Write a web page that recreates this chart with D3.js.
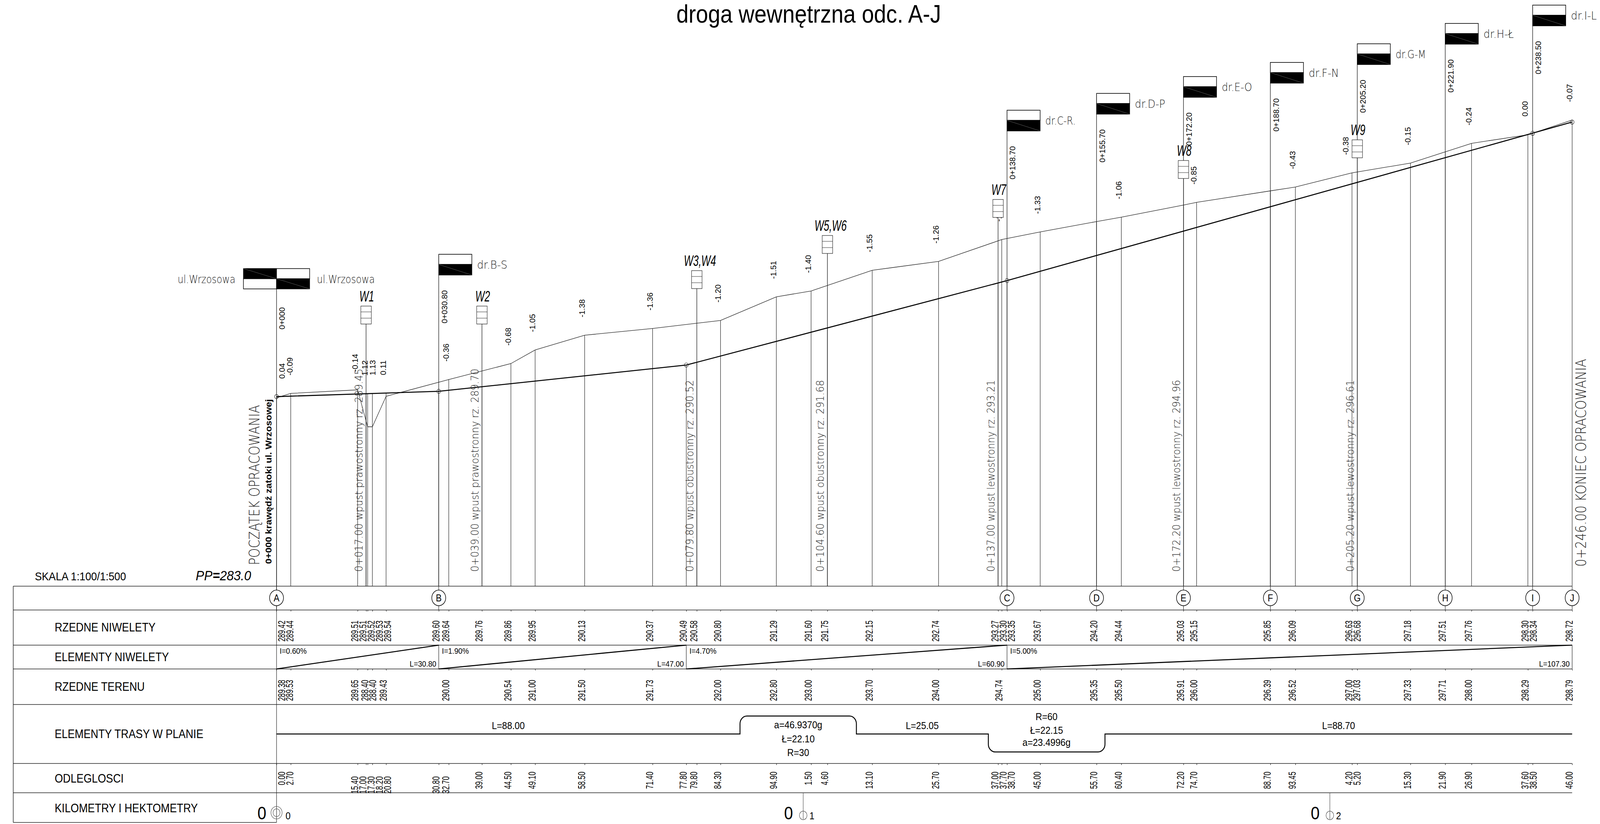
<!DOCTYPE html>
<html>
<head>
  <meta charset="utf-8" />
  <script src="https://d3js.org/d3.v7.min.js"></script>
  <style>
    html, body { margin: 0; background: #fff; overflow: hidden; }
    svg { display: block; width: 100vw; height: 100vh; }
    text { font-family: "Liberation Sans", Arial, sans-serif; fill: #000; }
    .thin { font-family: "DejaVu Sans", sans-serif; font-weight: 200; fill: #222; }
    .tick text { display: none; }
    .tick line { stroke: #222; stroke-width: 1.3px; }
  </style>
</head>
<body>
  <script>
    // stations (m) and the table rows
    var stations = [0, 2.7, 15.4, 17, 17.3, 18.2, 20.8, 30.8, 32.7, 39, 44.5, 49.1, 58.5, 71.4, 77.8, 79.8, 84.3, 94.9, 101.5, 104.6, 113.1, 125.7, 137, 137.7, 138.7, 145, 155.7, 160.4, 172.2, 174.7, 188.7, 193.45, 204.2, 205.2, 215.3, 221.9, 226.9, 237.6, 238.5, 246];
    var niweleta = [289.42, 289.44, 289.51, 289.51, 289.52, 289.53, 289.54, 289.60, 289.64, 289.76, 289.86, 289.95, 290.13, 290.37, 290.49, 290.58, 290.80, 291.29, 291.60, 291.75, 292.15, 292.74, 293.27, 293.30, 293.35, 293.67, 294.20, 294.44, 295.03, 295.15, 295.85, 296.09, 296.63, 296.68, 297.18, 297.51, 297.76, 298.30, 298.34, 298.72];
    var distLabels = ["0.00", "2.70", "15.40", "17.00", "17.30", "18.20", "20.80", "30.80", "32.70", "39.00", "44.50", "49.10", "58.50", "71.40", "77.80", "79.80", "84.30", "94.90", "1.50", "4.60", "13.10", "25.70", "37.00", "37.70", "38.70", "45.00", "55.70", "60.40", "72.20", "74.70", "88.70", "93.45", "4.20", "5.20", "15.30", "21.90", "26.90", "37.60", "38.50", "46.00"];

    var terenStations = [0, 2.7, 15.4, 17.3, 18.2, 20.8, 32.7, 44.5, 49.1, 58.5, 71.4, 84.3, 94.9, 101.5, 113.1, 125.7, 137.7, 145, 155.7, 160.4, 172.2, 174.7, 188.7, 193.45, 204.2, 205.2, 215.3, 221.9, 226.9, 237.6, 246];
    var teren = [289.38, 289.53, 289.65, 288.40, 288.40, 289.43, 290.00, 290.54, 291.00, 291.50, 291.73, 292.00, 292.80, 293.00, 293.70, 294.00, 294.74, 295.00, 295.35, 295.50, 295.91, 296.00, 296.39, 296.52, 297.00, 297.03, 297.33, 297.71, 298.00, 298.29, 298.79];

    var diffStations = [0, 2.7, 15.4, 17.3, 18.2, 20.8, 32.7, 44.5, 49.1, 58.5, 71.4, 84.3, 94.9, 101.5, 113.1, 125.7, 137.7, 145, 160.4, 174.7, 193.45, 204.2, 215.3, 226.9, 237.6, 246];
    var diffs = ["0.04", "-0.09", "-0.14", "1.12", "1.13", "0.11", "-0.36", "-0.68", "-1.05", "-1.38", "-1.36", "-1.20", "-1.51", "-1.40", "-1.55", "-1.26", "-1.44", "-1.33", "-1.06", "-0.85", "-0.43", "-0.38", "-0.15", "-0.24", "0.00", "-0.07"];

    // grade line
    var gradeStations = [0, 30.8, 77.8, 138.7, 246];
    var gradeElev = [289.42, 289.60, 290.49, 293.35, 298.72];
    var gradeI = ["I=0.60%", "I=1.90%", "I=4.70%", "I=5.00%"];
    var gradeL = ["L=30.80", "L=47.00", "L=60.90", "L=107.30"];
    var circleStations = [0, 30.8, 77.8, 138.7, 238.5, 246];

    // road crossings: flag station, height of the flag foot (m)
    var flagStations = [0, 30.8, 138.7, 155.7, 172.2, 188.7, 205.2, 221.9, 238.5];
    var flagElev = [293.07, 293.54, 298.42, 298.99, 299.56, 300.04, 300.67, 301.36, 301.98];
    var flagNames = ["ul.Wrzosowa", "dr.B-S", "dr.C-R.", "dr.D-P", "dr.E-O", "dr.F-N", "dr.G-M", "dr.H-Ł", "dr.I-L"];
    var chainage = ["0+000", "0+030.80", "0+138.70", "0+155.70", "0+172.20", "0+188.70", "0+205.20", "0+221.90", "0+238.50"];

    var letterStations = [0, 30.8, 138.7, 155.7, 172.2, 188.7, 205.2, 221.9, 238.5, 246];
    var letters = ["A", "B", "C", "D", "E", "F", "G", "H", "I", "J"];

    // inlets
    var inletStations = [17, 39, 79.8, 104.6, 137, 172.2, 205.2];
    var inletElev = [291.88, 291.88, 293.08, 294.27, 295.49, 296.81, 297.51];
    var inletNames = ["W1", "W2", "W3,W4", "W5,W6", "W7", "W8", "W9"];
    var inletNotes = [
      "0+017.00  wpust  prawostronny  rz.  289.45",
      "0+039.00  wpust  prawostronny  rz.  289.70",
      "0+079.80  wpust  obustronny  rz.  290.52",
      "0+104.60  wpust  obustronny  rz.  291.68",
      "0+137.00  wpust  lewostronny  rz.  293.21",
      "0+172.20  wpust  lewostronny  rz.  294.96",
      "0+205.20  wpust  lewostronny  rz.  296.61"
    ];

    // plan elements: length, side of the line
    var planLengths = [88, 22.1, 25.05, 22.15, 88.7];
    var planSides = [0, 1, 0, -1, 0];
    var hektoStations = [0, 100, 200];

    var rowLabels = ["RZEDNE NIWELETY", "ELEMENTY NIWELETY", "RZEDNE TERENU", "ELEMENTY TRASY W PLANIE", "ODLEGLOSCI", "KILOMETRY I HEKTOMETRY"];

    var W = 4594, H = 2110;
    var left = 38, tableTop = 1501;
    var rows = [1562, 1652, 1713, 1804, 1955, 2030, 2106];
    var rowBase = [1617, 1693, 1769, 1890, 2004, 2080];

    var x = d3.scaleLinear().domain([0, 246]).range([794, 4514]);
    var y = d3.scaleLinear().domain([283, 298.72]).range([tableTop, 312.6]);

    // drawing units stay 4594x2110 whatever the window really is
    var svg = d3.select("body").append("svg")
      .attr("viewBox", `0 0 ${W} ${H}`)
      .attr("preserveAspectRatio", "none");
    var ink = "#222";

    function vline(g, px, y1, y2, w, col) {
      g.append("line").attr("x1", px).attr("x2", px).attr("y1", y1).attr("y2", y2)
        .attr("stroke", col || ink).attr("stroke-width", w || 1.3);
    }
    function hline(g, x1, x2, py, w) {
      g.append("line").attr("x1", x1).attr("x2", x2).attr("y1", py).attr("y2", py)
        .attr("stroke", ink).attr("stroke-width", w || 1.6);
    }
    // rotated label; baseX = its baseline, py = its lower or upper end
    function vtext(g, txt, baseX, py, size, sx, anchor) {
      return g.append("text")
        .attr("transform", `translate(${baseX} ${py}) rotate(-90) scale(${sx} 1)`)
        .attr("font-size", size)
        .attr("text-anchor", anchor || "start")
        .text(txt);
    }
    // labels slide right when they would run into the previous one
    function sweep(px, offset, gap, first) {
      var out = [];
      px.forEach(function(p, i) {
        var c = p + offset;
        if (i == 0) c = first;
        else c = Math.max(c, out[i - 1] + gap);
        out.push(c);
      });
      return out;
    }

    function terrainAt(s) {
      var i = terenStations.indexOf(s);
      return i < 0 ? null : teren[i];
    }
    function topElev(s, i) {
      var t = terrainAt(s);
      return t === null ? niweleta[i] : Math.max(t, niweleta[i]);
    }

    // title
    svg.append("text").attr("x", 2322).attr("y", 58).attr("text-anchor", "middle")
      .attr("font-size", 64).attr("textLength", 760).attr("lengthAdjust", "spacingAndGlyphs")
      .text("droga wewnętrzna odc. A-J");

    // station lines
    var gLines = svg.append("g");
    stations.forEach(function(s, i) {
      vline(gLines, x(s), y(topElev(s, i)), tableTop);
    });

    // poles
    inletStations.forEach(function(s, i) {
      vline(gLines, x(s), y(inletElev[i]), tableTop, 1.5);
    });
    flagStations.forEach(function(s, i) {
      vline(gLines, x(s), y(flagElev[i]), tableTop, 1.5);
    });

    // terrain and grade
    var line = d3.line().x(function(d) { return x(d[0]); }).y(function(d) { return y(d[1]); });
    svg.append("path").attr("d", line(d3.zip(terenStations, teren)))
      .attr("fill", "none").attr("stroke", ink).attr("stroke-width", 1.3);
    svg.append("path").attr("d", line(d3.zip(gradeStations, gradeElev)))
      .attr("fill", "none").attr("stroke", "#000").attr("stroke-width", 2.6);
    circleStations.forEach(function(s) {
      svg.append("circle").attr("cx", x(s)).attr("cy", y(niweleta[stations.indexOf(s)])).attr("r", 5.5)
        .attr("fill", "none").attr("stroke", ink).attr("stroke-width", 1.2);
    });

    // differences above the profile
    var gDiff = svg.append("g");
    var diffX = sweep(diffStations.map(x), -8, 22, x(0) + 16);
    diffs.forEach(function(d, i) {
      var s = diffStations[i];
      var top = Math.max(teren[terenStations.indexOf(s)], niweleta[stations.indexOf(s)]);
      // -0.38 is pushed clear of the W9 box
      vtext(gDiff, d, diffX[i] + 8 - (s == 204.2 ? 10 : 0), y(top) - 46, 23, 0.88);
    });

    // flags
    var gFlag = svg.append("g");
    function flagPanel(px, py, w, h, black) {
      gFlag.append("rect").attr("x", px).attr("y", py).attr("width", w).attr("height", h)
        .attr("fill", black ? "#000" : "#fff").attr("stroke", "#000").attr("stroke-width", 1.6);
      if (black) {
        gFlag.append("line").attr("x1", px).attr("y1", py).attr("x2", px + w).attr("y2", py + h)
          .attr("stroke", "#777").attr("stroke-width", 0.8);
      }
    }
    function thinLabel(px, py, txt, len, size) {
      svg.append("text").attr("class", "thin").attr("x", px).attr("y", py)
        .attr("font-size", size).attr("textLength", len).attr("lengthAdjust", "spacingAndGlyphs").text(txt);
    }
    flagStations.forEach(function(s, i) {
      var fx = x(s), fy = y(flagElev[i]);
      if (i == 0) {
        flagPanel(fx - 95, fy - 52, 95, 26, true);
        flagPanel(fx - 95, fy - 26, 95, 26, false);
        flagPanel(fx, fy - 52, 95, 26, false);
        flagPanel(fx, fy - 26, 95, 26, true);
        thinLabel(fx - 284, fy - 15, flagNames[i], 166, 28);
        thinLabel(fx + 116, fy - 15, flagNames[i], 166, 28);
      } else {
        flagPanel(fx, fy - 53, 95, 26, false);
        flagPanel(fx, fy - 27, 95, 27, true);
        thinLabel(fx + 110, fy - 16, flagNames[i], i == 8 ? 74 : 87, 28);
      }
      vtext(svg, chainage[i], fx + 24, fy + (i == 0 ? 47 : 39), 23, 0.88, "end");
    });

    // inlets
    var gInlet = svg.append("g");
    inletStations.forEach(function(s, i) {
      var bx = x(s), by = y(inletElev[i]);
      gInlet.append("rect").attr("x", bx - 15).attr("y", by - 46).attr("width", 30).attr("height", 46)
        .attr("fill", "#fff").attr("stroke", ink).attr("stroke-width", 1.2);
      [-31, -15].forEach(function(d) {
        gInlet.append("line").attr("x1", bx - 15).attr("x2", bx + 15).attr("y1", by + d).attr("y2", by + d)
          .attr("stroke", ink).attr("stroke-width", 1);
      });
      gInlet.append("text")
        .attr("transform", `translate(${bx + (inletNames[i].length > 2 ? 9 : 2)} ${by - 58}) scale(0.74 1)`)
        .attr("text-anchor", "middle").attr("font-size", 38).attr("font-style", "italic")
        .text(inletNames[i]);
      svg.append("text").attr("class", "thin")
        .attr("transform", `translate(${bx - 10} 1464) rotate(-90)`)
        .attr("font-size", 30)
        .attr("textLength", i < 2 ? 520 : 491).attr("lengthAdjust", "spacingAndGlyphs")
        .text(inletNotes[i]);
    });

    // end notes
    svg.append("text").attr("class", "thin")
      .attr("transform", "translate(745 1447) rotate(-90)")
      .attr("font-size", 42).attr("textLength", 410).attr("lengthAdjust", "spacingAndGlyphs")
      .text("POCZĄTEK  OPRACOWANIA");
    svg.append("text")
      .attr("transform", "translate(780 1444) rotate(-90)")
      .attr("font-size", 25).attr("font-weight", "bold").attr("textLength", 422).attr("lengthAdjust", "spacingAndGlyphs")
      .text("0+000 krawędź zatoki ul. Wrzosowej");
    svg.append("text").attr("class", "thin")
      .attr("transform", "translate(4554 1451) rotate(-90)")
      .attr("font-size", 42).attr("textLength", 532).attr("lengthAdjust", "spacingAndGlyphs")
      .text("0+246.00 KONIEC  OPRACOWANIA");

    // scale notes
    svg.append("text").attr("x", 100).attr("y", 1486).attr("font-size", 30).text("SKALA 1:100/1:500");
    var pp = svg.append("text").attr("x", 562).attr("y", 1486).attr("font-size", 36).attr("font-style", "italic");
    pp.append("tspan").text("PP");
    pp.append("tspan").attr("font-weight", "bold").text("=");
    pp.append("tspan").text("283.0");

    // table frame
    var gTable = svg.append("g");
    hline(gTable, left, x(246), tableTop);
    rows.slice(0, 6).forEach(function(r) { hline(gTable, left, x(246), r); });
    hline(gTable, left, x(0), rows[6]);
    vline(gTable, left, tableTop, rows[6], 1.6);
    vline(gTable, x(0), tableTop, rows[6], 1.3);

    rowLabels.forEach(function(t, i) {
      svg.append("text").attr("x", 157).attr("y", rowBase[i]).attr("font-size", 30.5).text(t);
    });

    // small ticks on top of the rows
    function rowTicks(vals, ry) {
      svg.append("g").attr("transform", `translate(0 ${ry})`)
        .call(d3.axisBottom(x).tickValues(vals).tickSize(4).tickFormat(""))
        .call(function(g) { g.select(".domain").remove(); });
    }
    rowTicks(stations, rows[0]);
    rowTicks(terenStations, rows[2]);
    rowTicks(stations, rows[4]);

    // point letters
    letterStations.forEach(function(s, i) {
      vline(svg, x(s), tableTop, rows[0]);
      svg.append("circle").attr("cx", x(s)).attr("cy", 1531).attr("r", 20)
        .attr("fill", "#fff").attr("stroke", "#000").attr("stroke-width", 1.6);
      svg.append("text").attr("x", x(s)).attr("y", 1540).attr("text-anchor", "middle")
        .attr("font-size", 25).text(letters[i]);
    });

    // rotated table numbers
    var gNum = svg.append("g");
    var numX = sweep(stations.map(x), -9, 23.5, x(0) + 14);
    niweleta.forEach(function(v, i) {
      vtext(gNum, d3.format(".2f")(v), numX[i] + 10.5, 1643, 29, 0.61);
    });
    var terX = sweep(terenStations.map(x), -9, 22.5, x(0) + 14);
    teren.forEach(function(v, i) {
      vtext(gNum, d3.format(".2f")(v), terX[i] + 10.5, 1795, 29, 0.61);
    });
    distLabels.forEach(function(t, i) {
      var s = stations[i];
      var drop = s > 15 && s < 33 ? 12 : 0;
      vtext(gNum, t, numX[i] + 10.5, 1976 + drop, 29, 0.61, "end");
    });

    // grade elements
    var gGrade = svg.append("g");
    gradeI.forEach(function(t, i) {
      var a = x(gradeStations[i]), b = x(gradeStations[i + 1]);
      gGrade.append("line").attr("x1", a).attr("x2", b).attr("y1", rows[2]).attr("y2", rows[1])
        .attr("stroke", "#000").attr("stroke-width", 2.6);
      vline(gGrade, b, rows[1], rows[2]);
      gGrade.append("text").attr("x", a + 9).attr("y", 1674).attr("font-size", 21).text(t);
      gGrade.append("text").attr("x", b - 7).attr("y", 1707).attr("font-size", 21)
        .attr("text-anchor", "end").text(gradeL[i]);
    });

    // plan elements
    var axisY = 1879.5, stepUp = 46, rad = 20;
    var pathD = "M" + x(0) + " " + axisY;
    var at = 0;
    planLengths.forEach(function(len, i) {
      var a = x(at), b = x(at + len), side = planSides[i];
      if (side == 0) {
        pathD += "L" + b + " " + axisY;
      } else {
        var yy = axisY - side * stepUp;
        var sw = side > 0 ? 1 : 0;
        pathD += "L" + a + " " + (yy + side * rad);
        pathD += "A" + rad + " " + rad + " 0 0 " + sw + " " + (a + rad) + " " + yy;
        pathD += "L" + (b - rad) + " " + yy;
        pathD += "A" + rad + " " + rad + " 0 0 " + sw + " " + b + " " + (yy + side * rad);
        pathD += "L" + b + " " + axisY;
      }
      at += len;
    });
    svg.append("path").attr("d", pathD).attr("fill", "none").attr("stroke", "#000").attr("stroke-width", 2.6);

    function planText(s, py, t) {
      svg.append("text").attr("x", x(s)).attr("y", py).attr("text-anchor", "middle").attr("font-size", 26).text(t);
    }
    planText(44, 1867, "L=88.00");
    planText(99.05, 1865, "a=46.9370g");
    planText(99.05, 1901, "Ł=22.10");
    planText(99.05, 1936, "R=30");
    planText(122.6, 1867, "L=25.05");
    planText(146.2, 1844, "R=60");
    planText(146.2, 1879, "Ł=22.15");
    planText(146.2, 1910, "a=23.4996g");
    planText(201.65, 1867, "L=88.70");

    // kilometres and hectometres
    hektoStations.forEach(function(s, i) {
      var hx = x(s);
      if (i > 0) vline(svg, hx, rows[5], 2098, 1.2, "#444");
      var cy = i == 0 ? 2081 : 2088, r = i == 0 ? 16 : 11;
      svg.append("circle").attr("cx", hx).attr("cy", cy).attr("r", r)
        .attr("fill", "none").attr("stroke", "#444").attr("stroke-width", 1.2);
      if (i == 0) {
        svg.append("circle").attr("cx", hx).attr("cy", cy).attr("r", 10)
          .attr("fill", "none").attr("stroke", "#444").attr("stroke-width", 1.2);
      }
      svg.append("text").attr("x", hx - 42).attr("y", 2098).attr("text-anchor", "middle")
        .attr("font-size", 46).text("0");
      svg.append("text").attr("x", hx + (i == 0 ? 33 : 25)).attr("y", 2098).attr("text-anchor", "middle")
        .attr("font-size", 26).text(i);
    });
  </script>
</body>
</html>
